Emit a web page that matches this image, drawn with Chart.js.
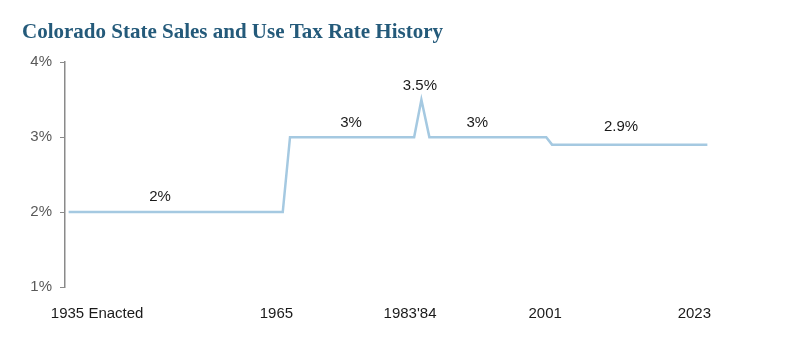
<!DOCTYPE html>
<html>
<head>
<meta charset="utf-8">
<script src="https://cdn.jsdelivr.net/npm/chart.js@4.4.0/dist/chart.umd.min.js"></script>
<style>
  html, body { margin: 0; padding: 0; background: #fff; }
  #wrap { width: 800px; height: 348px; }
</style>
</head>
<body>
<div id="wrap"><canvas id="taxChart"></canvas></div>
<script>
// rate history
const years = [1935, 1964.5, 1965.5, 1982.6, 1983.6, 1984.7, 2000.8, 2001.6, 2023];
const rates = [2, 2, 3, 3, 3.5, 3, 3, 2.9, 2.9];

// rate labels above the line
const labelYears = [1947.6, 1973.9, 1983.4, 1991.3, 2011.1];
const labelRates = [2, 3, 3.5, 3, 2.9];

// x axis labels
const tickYears = [1935, 1965, 1983, 2001, 2023];
const tickLabels = ["1935 Enacted", "1965", "1983'84", "2001", "2023"];

const yTicks = [1, 2, 3, 4];

const textPlugin = {
  id: "textPlugin",
  afterDatasetsDraw(chart) {
    const ctx = chart.ctx;
    const x = chart.scales.x;
    const y = chart.scales.y;
    ctx.save();
    ctx.font = "15px 'Liberation Sans', Arial, sans-serif";
    ctx.fillStyle = "#1a1a1a";
    ctx.textAlign = "center";
    ctx.textBaseline = "middle";
    const lift = [15, 14.5, 13.5, 14, 17.5];
    labelYears.forEach((yr, i) => {
      ctx.fillText(labelRates[i] + "%", x.getPixelForValue(yr), y.getPixelForValue(labelRates[i]) - lift[i]);
    });
    // x labels, nudged like the original
    const nudge = [28.5, -10, -7, -2.5, -13];
    tickYears.forEach((yr, i) => {
      ctx.fillText(tickLabels[i], x.getPixelForValue(yr) + nudge[i], chart.chartArea.bottom + 27);
    });
    ctx.restore();
  }
};

new Chart(document.getElementById("taxChart").getContext("2d"), {
  type: "line",
  data: {
    datasets: [
      {
        data: years.map((yr, i) => ({ x: yr, y: rates[i] })),
        borderColor: "#a5c9e1",
        borderWidth: 2.5,
        pointRadius: 0,
        tension: 0,
        fill: false,
      },
    ],
  },
  options: {
    responsive: true,
    maintainAspectRatio: false,
    animation: false,
    layout: {
      padding: { left: 22, right: 89, top: 0, bottom: 61 },
    },
    plugins: {
      legend: { display: false },
      tooltip: { enabled: false },
      title: {
        display: true,
        text: "Colorado State Sales and Use Tax Rate History",
        align: "start",
        color: "#245a7a",
        font: { family: "'Liberation Serif', 'DejaVu Serif', serif", size: 21, weight: "bold" },
        padding: { top: 20, bottom: 17 },
      },
    },
    scales: {
      x: {
        type: "linear",
        min: 1934.5,
        max: 2023.5,
        display: false,
      },
      y: {
        min: 1,
        max: 4,
        afterBuildTicks(scale) {
          scale.ticks = yTicks.map(v => ({ value: v }));
        },
        afterFit(scale) {
          scale.width = 43;
        },
        ticks: {
          callback: v => v + "%",
          color: "#595959",
          padding: 8,
          font: { family: "'Liberation Sans', Arial, sans-serif", size: 15 },
        },
        grid: {
          drawOnChartArea: false,
          tickLength: 5,
          color: "#8a8a8a",
        },
        border: { color: "#8a8a8a", width: 1.5 },
      },
    },
  },
  plugins: [textPlugin],
});
</script>
</body>
</html>
